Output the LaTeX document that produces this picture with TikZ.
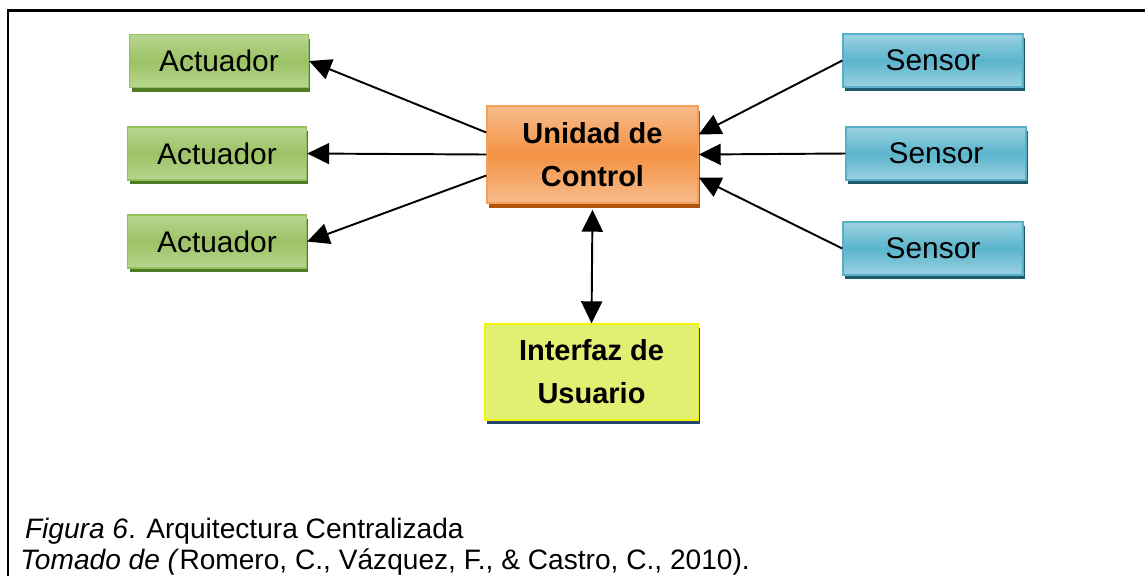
\documentclass[tikz,border=0pt]{standalone}
\usepackage{fontspec}
\setmainfont{Liberation Sans}
\usepackage{tikz}
\usetikzlibrary{arrows.meta,shadows}

\definecolor{actTop}{HTML}{B8D690}
\definecolor{actMid}{HTML}{9CC265}
\definecolor{actLine}{HTML}{93BF5E}
\definecolor{actShd}{HTML}{4F7A26}
\definecolor{senTop}{HTML}{9CD2E2}
\definecolor{senMid}{HTML}{5AB4CC}
\definecolor{senLine}{HTML}{58B0C8}
\definecolor{senShd}{HTML}{1F5A6B}
\definecolor{ctlTop}{HTML}{F8BC8C}
\definecolor{ctlMid}{HTML}{F39244}
\definecolor{ctlLine}{HTML}{F3A05A}
\definecolor{ctlShd}{HTML}{B25510}
\definecolor{uiFill}{HTML}{E1EF72}
\definecolor{uiLine}{HTML}{F5F500}
\definecolor{uiShd}{HTML}{25466E}

\begin{document}
\begin{tikzpicture}[
    x=0.02cm, y=-0.02cm,
    box/.style={draw, line width=0.8pt, align=center, inner sep=0pt,
                font=\fontsize{17}{24.4}\selectfont},
    act/.style={box, minimum width=3.58cm, minimum height=1.06cm,
                draw=actLine, top color=actTop, bottom color=actTop, middle color=actMid,
                drop shadow={shadow xshift=0.04cm, shadow yshift=-0.08cm, fill=actShd, opacity=1}},
    sen/.style={box, minimum width=3.6cm, minimum height=1.06cm,
                draw=senLine, top color=senTop, bottom color=senTop, middle color=senMid,
                drop shadow={shadow xshift=0.04cm, shadow yshift=-0.08cm, fill=senShd, opacity=1}},
    tip/.tip={Triangle[length=0.44cm,width=0.42cm]},
    wire/.style={-tip, line width=1.1pt}
  ]
  \useasboundingbox (0,0) rectangle (1145,576);

  % marco
  \draw[line width=1.7pt] (8,576) -- (8,10) -- (1145,10);

  % actuadores (izquierda)
  \node[act] (act1) at (219,61) {Actuador};
  \node[act] (act2) at (217,153.5) {Actuador};
  \node[act] (act3) at (217,241.5) {Actuador};

  % sensores (derecha)
  \node[sen] (sen1) at (933,60.5) {Sensor};
  \node[sen] (sen2) at (936,153.5) {Sensor};
  \node[sen] (sen3) at (933,248.5) {Sensor};

  % unidad de control (centro)
  \node[box, minimum width=4.22cm, minimum height=1.94cm, font=\fontsize{16.5}{24.4}\selectfont\bfseries,
        draw=ctlLine, top color=ctlTop, bottom color=ctlTop, middle color=ctlMid,
        drop shadow={shadow xshift=0.04cm, shadow yshift=-0.1cm, fill=ctlShd, opacity=1}]
        (ctrl) at (592.5,154.5) {Unidad de\\Control};

  % interfaz de usuario (abajo)
  \node[box, minimum width=4.26cm, minimum height=1.92cm, font=\fontsize{16.5}{24.4}\selectfont\bfseries,
        draw=uiLine, fill=uiFill,
        drop shadow={shadow xshift=0.04cm, shadow yshift=-0.08cm, fill=uiShd, opacity=1}]
        (ui) at (591.5,372) {Interfaz de\\Usuario};

  % salidas hacia los actuadores
  \draw[wire] ([yshift=0.44cm]ctrl.west) -- (act1.east);
  \draw[wire] (ctrl.west) -- (act2.east);
  \draw[wire] ([yshift=-0.42cm]ctrl.west) -- (act3.east);

  % entradas desde los sensores
  \draw[wire] (sen1.west) -- ([yshift=0.4cm]ctrl.east);
  \draw[wire] (sen2.west) -- (ctrl.east);
  \draw[wire] (sen3.west) -- ([yshift=-0.46cm]ctrl.east);

  % enlace con la interfaz
  \draw[wire, tip-tip] ([yshift=-0.12cm]ctrl.south) -- (ui.north);

  % pie de figura
  \node[anchor=north west, align=left, inner sep=0pt,
        font=\fontsize{16}{17.4}\selectfont] (caption) at (20,518)
    {\,\textit{Figura 6}. Arquitectura Centralizada\\
     \textit{Tomado de (}Romero, C., Vázquez, F., \& Castro, C., 2010).};
\end{tikzpicture}
\end{document}
